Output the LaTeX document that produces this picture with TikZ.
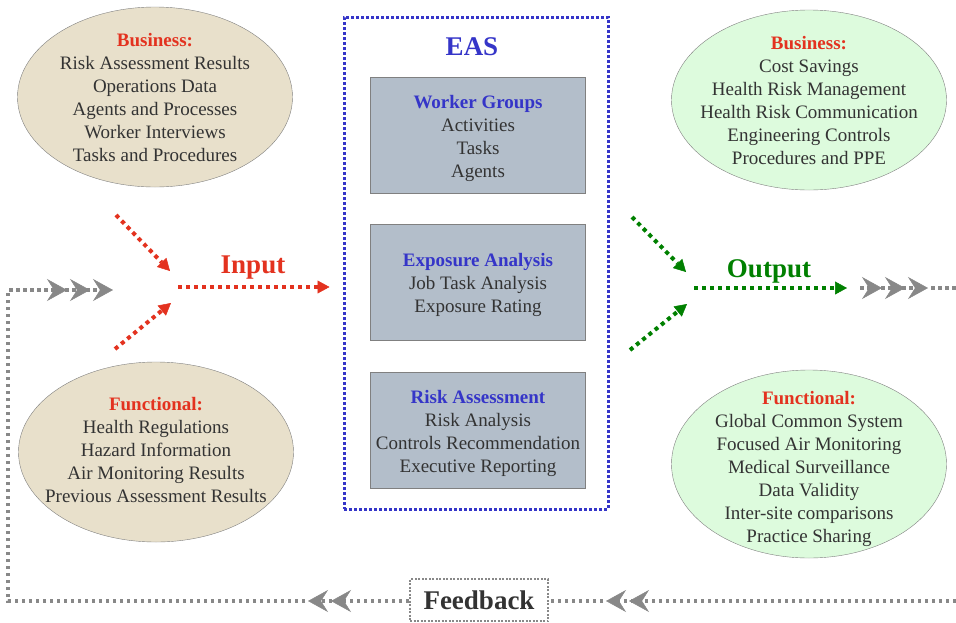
\documentclass[tikz,border=0pt]{standalone}
\usepackage{fontspec}
\setmainfont{Liberation Serif}
\usepackage{tikz}
\usetikzlibrary{shapes.geometric,arrows.meta}

\definecolor{redtxt}{HTML}{E3321F}
\definecolor{greentxt}{HTML}{008000}
\definecolor{bluetxt}{HTML}{3535C8}
\definecolor{textgray}{HTML}{333333}
\definecolor{fbgray}{HTML}{888888}
\definecolor{beige}{HTML}{E8E0CB}
\definecolor{mint}{HTML}{DDFBDD}
\definecolor{slate}{HTML}{B3BECA}

\newcommand{\heading}[2]{{\bfseries\color{#1}#2}}

\tikzset{
	txt/.style={align=center, font=\fontsize{19}{23}\selectfont, text=textgray},
	oval/.style={ellipse, draw=gray, thin, minimum width=275pt, minimum height=180pt},
	stage/.style={draw=gray, fill=slate, minimum width=215pt, minimum height=116pt},
	bigword/.style={font=\bfseries\fontsize{27}{27}\selectfont},
	flow/.style={line width=4pt, dash pattern=on 4pt off 4pt, -{Triangle[length=12pt,width=13pt,line width=0.5pt]}},
	fbline/.style={draw=fbgray, line width=4pt, dash pattern=on 3.5pt off 3.5pt},
	chev/.tip={Stealth[length=20pt,width=22pt,inset=7pt,sep=3pt,line width=0.5pt]}
}

\begin{document}
\begin{tikzpicture}[x=1pt,y=-1pt]
	\useasboundingbox (0,0) rectangle (956,622);

	% input ellipses
	\node[oval, fill=beige] (bizin) at (155,97) {};
	\node[txt] (bizintxt) at (bizin) {\heading{redtxt}{Business:}\\Risk Assessment Results\\Operations Data\\Agents and Processes\\Worker Interviews\\Tasks and Procedures};
	\node[oval, fill=beige] (funin) at (156,452) {};
	\node[txt, yshift=2pt] (funintxt) at (funin) {\heading{redtxt}{Functional:}\\Health Regulations\\Hazard Information\\Air Monitoring Results\\Previous Assessment Results};

	% output ellipses
	\node[oval, fill=mint] (bizout) at (809,100) {};
	\node[txt] (bizouttxt) at (bizout) {\heading{redtxt}{Business:}\\Cost Savings\\Health Risk Management\\Health Risk Communication\\Engineering Controls\\Procedures and PPE};
	\node[oval, fill=mint, minimum height=188pt] (funout) at (809,464) {};
	\node[txt, yshift=-5pt] (funouttxt) at (funout) {\heading{redtxt}{Functional:}\\Global Common System\\Focused Air Monitoring\\Medical Surveillance\\Data Validity\\Inter-site comparisons\\Practice Sharing};

	% EAS
	\node[draw=bluetxt, line width=3pt, dash pattern=on 3pt off 2pt, minimum width=264pt, minimum height=492pt] (eas) at (476,263) {};
	\node[bigword, text=bluetxt] (eastitle) at (472,47) {EAS};
	\node[stage] (groups) at (478,135) {};
	\node[txt, yshift=-3pt] (groupstxt) at (groups) {\heading{bluetxt}{Worker Groups}\\Activities\\Tasks\\Agents};
	\node[stage] (exposure) at (478,282) {};
	\node[txt, yshift=-3pt] (exposuretxt) at (exposure) {\heading{bluetxt}{Exposure Analysis}\\Job Task Analysis\\Exposure Rating};
	\node[stage] (risk) at (478,430) {};
	\node[txt, yshift=-3pt] (risktxt) at (risk) {\heading{bluetxt}{Risk Assessment}\\Risk Analysis\\Controls Recommendation\\Executive Reporting};

	% input arrows
	\coordinate (inup) at (116,215);
	\coordinate (inupend) at (170,271);
	\coordinate (inlow) at (115,349);
	\coordinate (inlowend) at (171,303);
	\coordinate (injoin) at (178,287);
	\draw[flow, draw=redtxt, redtxt] (inup) -- (inupend);
	\draw[flow, draw=redtxt, redtxt] (inlow) -- (inlowend);
	\draw[flow, draw=redtxt, redtxt, shorten >=13pt] (injoin) -- (eas.west |- injoin);
	\node[bigword, text=redtxt] (input) at (253,268) {Input};

	% output arrows
	\coordinate (outup) at (632,217);
	\coordinate (outupend) at (686,272);
	\coordinate (outlow) at (630,350);
	\coordinate (outlowend) at (687,304);
	\coordinate (outjoin) at (694,288);
	\coordinate (outend) at (847,288);
	\draw[flow, draw=greentxt, greentxt] (outup) -- (outupend);
	\draw[flow, draw=greentxt, greentxt] (outlow) -- (outlowend);
	\draw[flow, draw=greentxt, greentxt] (outjoin) -- (outend);
	\node[bigword, text=greentxt] (output) at (769,271) {Output};

	% feedback loop
	\node[draw=fbgray, line width=2pt, dash pattern=on 2pt off 1.5pt, minimum width=138pt, minimum height=42pt, bigword, text=textgray] (feedback) at (479,600) {Feedback};
	\coordinate (fbstart) at (860,288);
	\coordinate (fbchev) at (931,288);
	\coordinate (edgetop) at (956,288);
	\coordinate (edgebot) at (956,601);
	\coordinate (backR) at (603,601);
	\coordinate (backL) at (305,601);
	\coordinate (cornerL) at (8,601);
	\coordinate (inchev) at (116,290);
	\draw[fbline, fbgray, -{chev[]chev[]chev[]}] (fbstart) -- (fbchev);
	\draw[fbline] (fbchev) -- (edgetop);
	\draw[fbline, fbgray, -{chev[]chev[]}] (edgebot) -- (backR);
	\draw[fbline] (backR) -- (feedback.east |- backR);
	\draw[fbline, fbgray, -{chev[]chev[]}] (feedback.west |- backL) -- (backL);
	\draw[fbline, fbgray, -{chev[]chev[]chev[]}] (backL) -- (cornerL) |- (inchev);
\end{tikzpicture}
\end{document}
